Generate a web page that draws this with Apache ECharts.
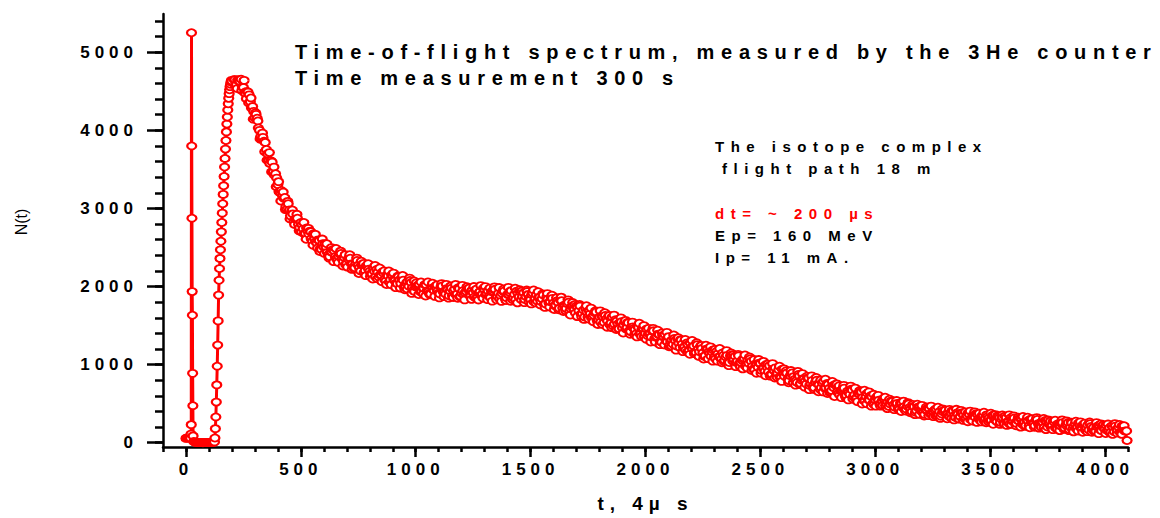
<!DOCTYPE html>
<html>
<head>
<meta charset="utf-8">
<script src="https://cdn.jsdelivr.net/npm/echarts@6/dist/echarts.min.js"></script>
<style>
  html, body { margin: 0; padding: 0; background: #fff; }
  #chart { width: 1160px; height: 518px; }
  /* letter-spaced texts, selected by their font size */
  text[style*="17px"] { letter-spacing: 5px; }
  text[style*="20px"] { letter-spacing: 6.7px; }
  text[style*="15px"] { letter-spacing: 6.5px; }
  text[style*="19px"] { letter-spacing: 6px; }
</style>
</head>
<body>
<div id="chart"></div>
<script>
// ---------------- data ----------------
const xTickLabels = [0, 500, 1000, 1500, 2000, 2500, 3000, 3500, 4000];
const xMinorTicks = [-100, 0, 100, 200, 300, 400, 500, 600, 700, 800, 900, 1000, 1100, 1200, 1300, 1400, 1500, 1600, 1700, 1800, 1900, 2000, 2100, 2200, 2300, 2400, 2500, 2600, 2700, 2800, 2900, 3000, 3100, 3200, 3300, 3400, 3500, 3600, 3700, 3800, 3900, 4000, 4100];
const yTickLabels = [0, 1000, 2000, 3000, 4000, 5000];
const yMinorTicks = [0, 200, 400, 600, 800, 1000, 1200, 1400, 1600, 1800, 2000, 2200, 2400, 2600, 2800, 3000, 3200, 3400, 3600, 3800, 4000, 4200, 4400, 4600, 4800, 5000, 5200, 5400];

const titleLines = ['Time-of-flight spectrum, measured by the 3He counter', 'Time measurement 300 s'];
const noteLines = ['The isotope complex', 'flight path 18 m'];
const beamLines = ['dt= ~ 200 µs', 'Ep= 160 MeV', 'Ip= 11 mA.'];
const xName = 't, 4µ s';
const yName = 'N(t)';

// [t, N(t)]
const preSpike = [[0, 55], [4, 62], [8, 58], [12, 66], [16, 60], [20, 57]];
const spike = [[22, 110], [23, 231], [24, 5250], [25, 3800], [26, 2875], [27, 1935], [28, 1632], [29, 888], [30, 474], [31, 87]];
const gap = [[34, 15], [38, 8], [42, 5], [46, 3], [50, 2], [54, 4], [58, 2], [62, 1], [66, 3], [70, 2], [74, 0], [78, 2], [82, 1], [86, 3], [90, 2], [94, 1], [98, 3], [102, 2], [106, 4], [110, 3], [114, 5], [118, 6], [122, 8]];
const rise = [[124, 10], [126, 60], [128, 180], [130, 330], [132, 520], [134, 740], [136, 980], [138, 1250], [140, 1560], [142, 1890], [144, 2080], [146, 2230], [148, 2360], [150, 2470], [152, 2580], [154, 2700], [156, 2820], [158, 2940], [160, 3060], [162, 3180], [164, 3290], [166, 3410], [168, 3530], [170, 3640], [172, 3760], [174, 3870], [176, 3980], [178, 4080], [180, 4170], [182, 4260], [184, 4340], [186, 4410], [188, 4470], [190, 4520], [192, 4560], [194, 4590], [196, 4620], [198, 4640], [200, 4630]];

const decayStep = 10;
// channels 210, 220, ... 4090
const decayStartA = 210;
const decayCountsA = [
4650,4585,4630,4655,4550,4470,4490,4365,4305,4160,
4155,4000,3890,3860,3755,3610,3610,3465,3445,3305,
3200,3165,3140,2990,2980,2965,2835,2870,2795,2820,
2740,2680,2710,2710,2583,2610,2555,2590,2475,2505,
2505,2405,2445,2475,2385,2340,2415,2355,2370,2295,
2368,2290,2252,2300,2273,2200,2277,2205,2263,2195,
2162,2195,2219,2118,2147,2171,2070,2134,2088,2137,
2076,2035,2085,2105,1997,2045,2003,2052,1951,1995,
2015,1935,1985,2025,1946,1912,1998,1950,1977,1915,
1998,1931,1904,1962,1944,1881,1968,1905,1973,1915,
1894,1938,1972,1881,1920,1954,1863,1937,1901,1960,
1908,1876,1934,1962,1860,1913,1881,1939,1847,1900,
1923,1846,1899,1942,1865,1832,1920,1872,1899,1835,
1914,1843,1812,1866,1844,1777,1859,1791,1853,1790,
1761,1797,1823,1724,1755,1780,1680,1745,1700,1750,
1690,1649,1699,1719,1609,1654,1614,1664,1564,1609,
1624,1539,1584,1619,1534,1494,1574,1519,1539,1469,
1545,1471,1437,1488,1464,1395,1475,1405,1465,1400,
1370,1405,1430,1330,1360,1385,1286,1352,1307,1358,
1299,1260,1310,1330,1220,1265,1226,1277,1178,1223,
1239,1155,1200,1235,1151,1113,1195,1142,1163,1095,
1172,1100,1068,1120,1097,1030,1113,1045,1107,1045,
1018,1055,1082,985,1016,1043,944,1010,965,1015,
956,916,967,987,878,923,884,934,835,880,
896,812,858,895,811,772,853,799,820,751,
828,755,722,774,751,683,765,697,759,696,
668,705,732,634,666,693,595,662,619,671,
613,575,627,649,541,588,550,602,504,551,
563,496,533,562,495,464,529,486,503,448,
510,452,426,468,450,396,462,408,458,408,
388,420,444,368,396,420,344,400,368,412,
368,341,385,406,322,363,335,380,304,345,
362,299,340,373,310,283,352,313,334,283,
348,293,270,315,300,249,318,267,320,273,
254,287,312,237,266,291,216,273,242,287,
244,217,263,284,201,243,216,261,187,228,
246,184,225,259,197,171,240,202,224,174,
240,186,164,210,196,146,216,166,220,174,
156,190,216,142,172,198,124,182,152
];
// channels 213, 223, ... 4083
const decayStartC = 213;
const decayCountsC = [
4650,4535,4650,4510,4640,4405,4350,4415,4143,4225,
4120,3888,3965,3725,3618,3715,3468,3530,3278,3343,
3095,3210,2985,3090,2865,2980,2795,2925,2713,2700,
2820,2605,2745,2702,2529,2668,2493,2448,2608,2423,
2548,2363,2498,2318,2488,2308,2453,2263,2408,2249,
2407,2219,2226,2364,2167,2324,2296,2139,2292,2129,
2096,2270,2099,2238,2062,2201,2025,2199,2023,2172,
1986,2135,1980,2141,1959,1969,2108,1912,2071,2048,
1898,2058,1903,1878,2059,1895,2042,1874,2021,1854,
2037,1870,2028,1851,2008,1860,2027,1849,1867,2015,
1829,1998,1982,1836,2000,1849,1828,2012,1851,1999,
1832,1980,1813,1996,1829,1987,1810,1968,1821,1989,
1812,1830,1978,1791,1959,1941,1794,1956,1802,1777,
1956,1790,1934,1763,1906,1733,1910,1737,1889,1706,
1857,1703,1864,1680,1690,1830,1635,1795,1770,1615,
1770,1609,1579,1754,1584,1724,1549,1689,1514,1689,
1514,1664,1479,1629,1474,1634,1449,1459,1599,1405,
1566,1542,1388,1544,1385,1355,1530,1360,1500,1325,
1465,1290,1465,1290,1440,1256,1407,1252,1413,1229,
1240,1380,1185,1345,1320,1166,1322,1163,1133,1309,
1140,1280,1105,1246,1072,1249,1076,1228,1044,1196,
1044,1207,1024,1036,1179,987,1149,1126,974,1132,
974,946,1124,956,1097,924,1065,890,1065,891,
1041,857,1007,853,1013,829,839,980,785,946,
922,768,924,766,737,913,744,885,711,852,
679,856,683,835,652,804,651,813,630,642,
784,591,753,730,577,734,576,548,725,557,
699,526,668,495,672,499,651,468,620,468,
607,469,477,583,437,557,539,423,540,421,
399,532,406,513,383,489,360,493,363,478,
342,458,346,469,334,345,454,311,434,419,
307,427,312,292,428,304,414,286,395,269,
405,278,395,260,377,266,390,256,268,378,
236,360,346,234,355,240,221,357,234,344,
217,326,200,336,209,326,191,308,197,321,
187,199,310,168,292,279,167,288,174,155,
292,170,280,154,264,139,275,149,267,133,
251,141,266,133,146,257,116,241,228,117,
239,125,107,244,122,233,107,217
];
// channels 215, 225, ... 4085
const decayStartB = 215;
const decayCountsB = [
4575,4645,4625,4560,4485,4500,4455,4285,4243,4205,
4030,3918,3910,3845,3698,3575,3593,3425,3388,3213,
3230,3130,3025,3060,2905,2930,2865,2875,2753,2790,
2675,2750,2670,2612,2674,2573,2598,2488,2548,2548,
2438,2383,2443,2458,2358,2388,2423,2323,2283,2349,
2362,2289,2241,2334,2242,2279,2176,2264,2222,2164,
2241,2125,2184,2148,2187,2091,2150,2054,2148,2087,
2046,2125,2040,2081,1989,2064,2078,1982,1936,2003,
2028,1938,1978,2023,1934,1905,1982,2004,1941,1904,
2007,1925,1973,1881,1978,1945,1897,1984,1877,1945,
1919,1968,1882,1951,1865,1969,1918,1887,1976,1899,
1947,1860,1943,1966,1879,1842,1915,1943,1856,1899,
1947,1860,1833,1911,1934,1871,1834,1936,1852,1897,
1801,1895,1859,1808,1891,1778,1840,1807,1849,1756,
1817,1723,1819,1760,1720,1800,1715,1755,1660,1735,
1750,1654,1609,1674,1694,1599,1634,1674,1579,1544,
1614,1629,1559,1514,1609,1519,1559,1459,1549,1510,
1456,1537,1423,1484,1450,1490,1395,1455,1360,1455,
1395,1355,1435,1350,1390,1296,1372,1387,1293,1249,
1315,1335,1240,1275,1315,1221,1187,1258,1273,1204,
1160,1255,1165,1206,1107,1199,1161,1108,1189,1076,
1139,1107,1149,1056,1119,1027,1124,1066,1029,1112,
1029,1071,979,1056,1072,979,935,1000,1020,926,
961,1002,907,873,943,959,889,845,940,851,
892,793,884,846,792,873,759,820,786,827,
734,796,703,800,742,704,786,703,745,652,
729,746,653,610,677,699,606,643,685,592,
559,631,648,580,537,634,546,588,490,583,
544,501,566,475,524,497,530,455,504,429,
507,461,431,497,431,465,391,453,467,394,
362,418,438,366,398,434,362,338,398,414,
363,331,412,344,381,305,382,354,315,384,
297,350,327,364,293,346,275,356,313,286,
355,292,329,258,323,340,269,238,295,316,
245,278,315,244,221,282,299,248,217,298,
231,268,194,271,244,206,275,188,242,219,
257,187,240,170,252,210,183,253,191,229,
159,225,243,173,143,201,223,153,187,225,
155,133,195,213,163,133,215,149
];
const tail = [[4094, 150], [4096, 28]];

// ---------------- chart ----------------
function toPairs(start, counts) { return counts.map((n, i) => [start + i * decayStep, n]); }
const decay = [].concat(toPairs(decayStartA, decayCountsA), toPairs(decayStartC, decayCountsC), toPairs(decayStartB, decayCountsB))
  .sort((a, b) => a[0] - b[0]);
const earlyData = [].concat(preSpike, spike, gap, rise);
const lateData = [rise[rise.length - 1]].concat(decay, tail);

const FONT = 'Liberation Sans, Arial, sans-serif';
const RED = '#ff0000';

const chart = echarts.init(document.getElementById('chart'), null, { renderer: 'svg' });

const xBase = { type: 'value', min: -100, max: 4100, position: 'bottom', splitLine: { show: false } };
const yBase = { type: 'value', min: -55, max: 5490, position: 'left', splitLine: { show: false } };
const seriesBase = {
  type: 'line', xAxisIndex: 0, yAxisIndex: 0,
  showAllSymbol: true, symbol: 'emptyCircle', symbolSize: [9, 7], sampling: null,
  itemStyle: { color: RED, borderColor: RED, borderWidth: 1 },
  emphasis: { disabled: true }, z: 3
};

chart.setOption({
  animation: false,
  backgroundColor: '#ffffff',
  grid: { left: 163, right: 32, top: 14, bottom: 70 },
  xAxis: [
    Object.assign({}, xBase, {
      axisLine: { onZero: false, lineStyle: { color: '#000', width: 2.5 } },
      axisTick: { show: true, customValues: xTickLabels, length: 10, lineStyle: { color: '#000', width: 2.5 } },
      axisLabel: { customValues: xTickLabels, formatter: v => String(v), margin: 14, color: '#000',
                   fontSize: 17, fontWeight: 'bold', fontFamily: FONT },
      name: xName, nameLocation: 'middle', nameGap: 47,
      nameTextStyle: { color: '#000', fontSize: 19, fontWeight: 'bold', fontFamily: FONT }
    }),
    Object.assign({}, xBase, {
      axisLine: { show: false, onZero: false },
      axisTick: { show: true, customValues: xMinorTicks, length: 5, lineStyle: { color: '#000', width: 2.5 } },
      axisLabel: { show: false }
    })
  ],
  yAxis: [
    Object.assign({}, yBase, {
      axisLine: { show: true, onZero: false, lineStyle: { color: '#000', width: 2.5 } },
      axisTick: { show: true, customValues: yTickLabels, length: 16, lineStyle: { color: '#000', width: 2.5 } },
      axisLabel: { customValues: yTickLabels, formatter: v => String(v), margin: 25, color: '#000',
                   fontSize: 17, fontWeight: 'bold', fontFamily: FONT }
    }),
    Object.assign({}, yBase, {
      axisLine: { show: false, onZero: false },
      axisTick: { show: true, customValues: yMinorTicks, length: 8, lineStyle: { color: '#000', width: 2.5 } },
      axisLabel: { show: false }
    })
  ],
  graphic: [
    { type: 'text', x: 295, y: 52, style: { text: titleLines[0], fill: '#000', font: 'bold 20px ' + FONT, verticalAlign: 'middle' } },
    { type: 'text', x: 295, y: 78, style: { text: titleLines[1], fill: '#000', font: 'bold 20px ' + FONT, verticalAlign: 'middle' } },
    { type: 'text', x: 715, y: 146, style: { text: noteLines[0], fill: '#000', font: 'bold 15px ' + FONT, verticalAlign: 'middle' } },
    { type: 'text', x: 722, y: 168, style: { text: noteLines[1], fill: '#000', font: 'bold 15px ' + FONT, verticalAlign: 'middle' } },
    { type: 'text', x: 715, y: 213, style: { text: beamLines[0], fill: RED, font: 'bold 15px ' + FONT, verticalAlign: 'middle' } },
    { type: 'text', x: 715, y: 235, style: { text: beamLines[1], fill: '#000', font: 'bold 15px ' + FONT, verticalAlign: 'middle' } },
    { type: 'text', x: 715, y: 257, style: { text: beamLines[2], fill: '#000', font: 'bold 15px ' + FONT, verticalAlign: 'middle' } },
    { type: 'text', x: 21, y: 222, rotation: Math.PI / 2,
      style: { text: yName, fill: '#000', font: '16px ' + FONT, align: 'center', verticalAlign: 'middle' } }
  ],
  series: [
    Object.assign({}, seriesBase, { data: earlyData, lineStyle: { color: RED, width: 3 } }),
    Object.assign({}, seriesBase, { data: lateData, lineStyle: { color: RED, width: 1.5 } })
  ]
});
</script>
</body>
</html>
